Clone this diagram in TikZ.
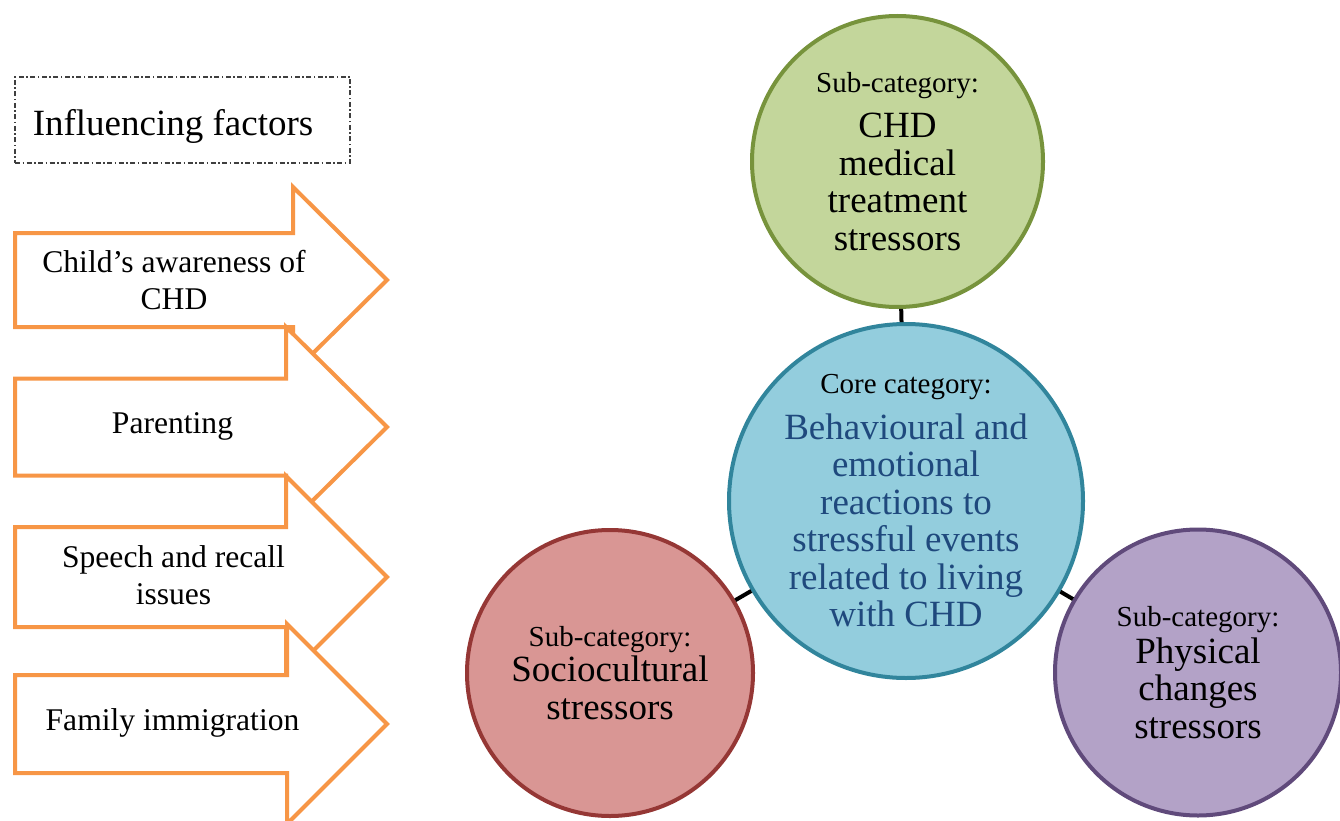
\documentclass[tikz,border=0pt]{standalone}
\usepackage{fontspec}
\setmainfont{Liberation Serif}
\definecolor{factororange}{HTML}{F79646}
\definecolor{greenfill}{HTML}{C3D69B}
\definecolor{greenline}{HTML}{77933C}
\definecolor{bluefill}{HTML}{93CDDD}
\definecolor{blueline}{HTML}{31859C}
\definecolor{redfill}{HTML}{D99694}
\definecolor{redline}{HTML}{953735}
\definecolor{purplefill}{HTML}{B3A2C7}
\definecolor{purpleline}{HTML}{604A7B}
\definecolor{coretext}{HTML}{1F497D}
\definecolor{framegray}{HTML}{3F3F3F}
\newcommand{\smallcat}{\fontsize{29}{33}\selectfont}
\begin{document}
\begin{tikzpicture}[x=1pt,y=-1pt,
  titlebox/.style={draw=framegray, line width=1.3pt,
    dash pattern=on 5pt off 2.5pt on 1.5pt off 2.5pt,
    minimum width=335pt, minimum height=86pt, inner sep=0pt,
    text height=34pt, text depth=2pt,
    font=\fontsize{37}{40}\selectfont},
  factorline/.style={draw=factororange, fill=white, line width=4pt, line join=miter},
  factortext/.style={anchor=base, align=center, inner sep=0pt,
    font=\fontsize{31.6}{37}\selectfont},
  category/.style={circle, line width=4pt, inner sep=0pt, align=center,
    font=\fontsize{37}{37.5}\selectfont},
  link/.style={draw=black, line width=4pt},
  pics/factorarrow/.style args={#1/#2/#3}{code={
    \draw[factorline] (15,-#3) -- (#1,-#3) -- (#1,-#2) -- (387,0)
      -- (#1,#2) -- (#1,#3) -- (15,#3) -- cycle;}}
]
\useasboundingbox (0,0) rectangle (1340,821);

% heading frame, its text set a little left of centre
\node[titlebox] (title) at (182.5,120) {Influencing factors\kern19pt};

% influencing factors as block arrows, each drawn over the previous one
% (two-line labels are placed by the baseline of their last line)
\pic at (0,280) {factorarrow=293/93/47};
\node[factortext] (f1) at (174,309) {Child’s awareness of\\CHD};
\pic at (0,427) {factorarrow=286/100/48.5};
\node[factortext] (f2) at (172.5,433) {Parenting};
\pic at (0,577) {factorarrow=286/101/50};
\node[factortext] (f3) at (173.5,604) {Speech and recall\\issues};
\pic at (0,724) {factorarrow=287/100/49};
\node[factortext] (f4) at (172.5,730) {Family immigration};

% categories
\node[category, fill=greenfill, draw=greenline, minimum size=291pt] (medical)
  at (897.5,161.5)
  {{\smallcat Sub-category:}\\[7.5pt]CHD\\medical\\treatment\\stressors};
\node[category, fill=bluefill, draw=blueline, minimum size=354pt, text=coretext] (core)
  at (906,501)
  {{\smallcat\color{black}Core category:}\\[8pt]Behavioural and\\emotional\\reactions to\\stressful events\\related to living\\with CHD};
\node[category, fill=redfill, draw=redline, minimum size=286pt] (socio)
  at (610,673)
  {{\smallcat Sub-category:}\\[-2.5pt]Sociocultural\\stressors};
\node[category, fill=purplefill, draw=purpleline, minimum size=286pt] (physical)
  at (1198,672.5)
  {{\smallcat Sub-category:}\\[-1pt]Physical\\changes\\stressors};

% links between the core and the sub-categories
\draw[link] (core) -- (medical);
\draw[link] (core) -- (socio);
\draw[link] (core) -- (physical);
\end{tikzpicture}
\end{document}
